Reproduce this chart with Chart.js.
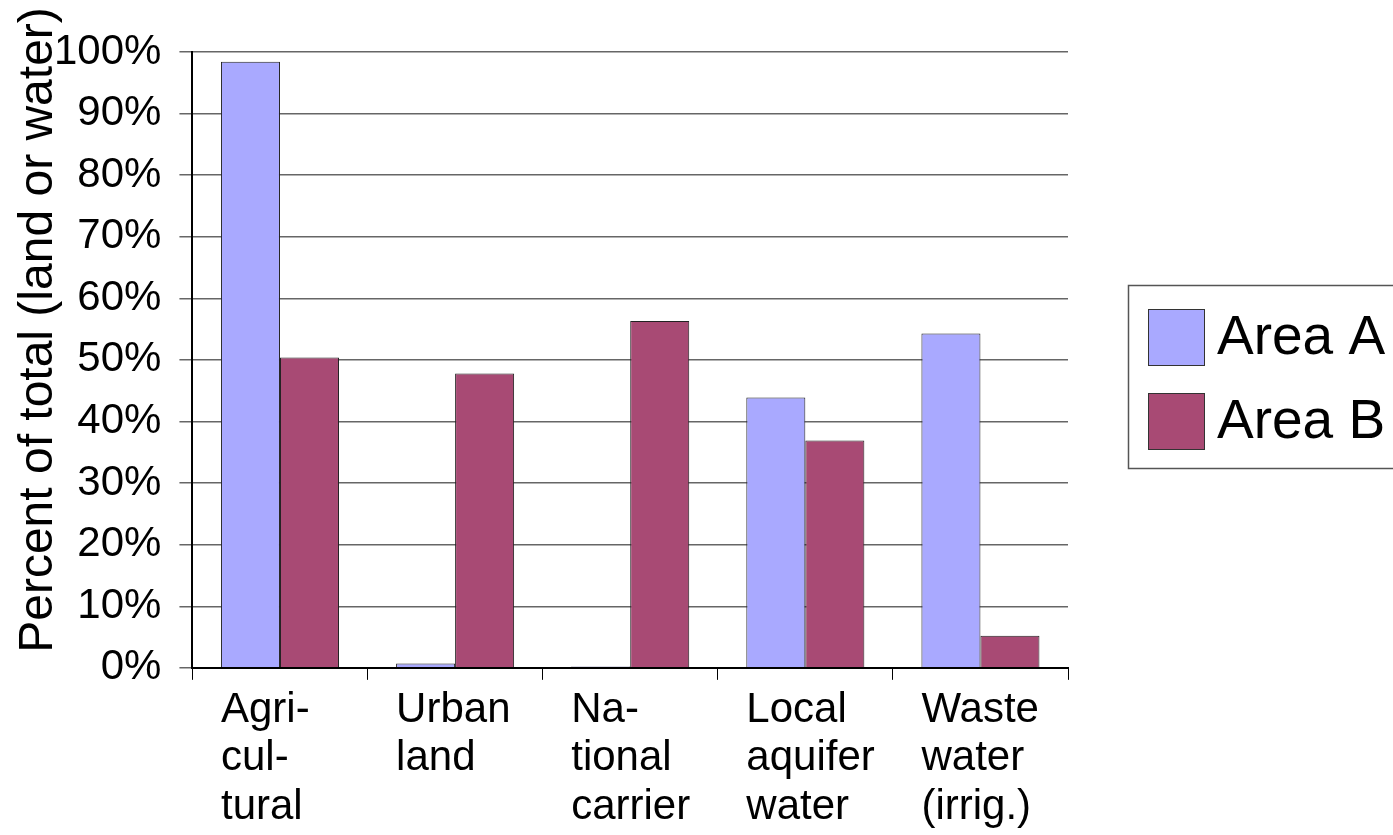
<!DOCTYPE html>
<html>
<head>
<meta charset="utf-8">
<script src="https://cdn.jsdelivr.net/npm/chart.js@4"></script>
<style>
  html, body { margin: 0; padding: 0; background: #fff; }
  #box { width: 1393px; height: 835px; position: relative; }
</style>
</head>
<body>
<div id="box"><canvas id="usoChart"></canvas></div>
<script>
// categorias (etiquetas en varias lineas)
const categorias = [
  ["Agri-", "cul-", "tural"],
  ["Urban", "land"],
  ["Na-", "tional", "carrier"],
  ["Local", "aquifer", "water"],
  ["Waste", "water", "(irrig.)"]
];
const areaA = [98.4, 0.7, 0.2, 43.9, 54.3];
const areaB = [50.4, 47.8, 56.3, 36.9, 5.2];
const ticksY = [0, 10, 20, 30, 40, 50, 60, 70, 80, 90, 100];
const tituloY = "Percent of total (land or water)";

const FUENTE = "'Liberation Sans', Arial, sans-serif";

// Titulo vertical del eje Y, un poco mas arriba que el centro del area
const tituloPlugin = {
  id: "tituloY",
  afterDraw(chart) {
    const ctx = chart.ctx;
    ctx.save();
    ctx.translate(39, 330);
    ctx.rotate(-Math.PI / 2);
    ctx.font = "48px " + FUENTE;
    ctx.fillStyle = "#000";
    ctx.textAlign = "center";
    ctx.textBaseline = "middle";
    ctx.fillText(tituloY, 0, 0);
    ctx.restore();
  }
};

// Leyenda con marco, dibujada a la derecha del area del grafico
const leyendaPlugin = {
  id: "leyendaMarco",
  afterDraw(chart) {
    const ctx = chart.ctx;
    const x0 = chart.chartArea.right + 60;
    const y0 = 285;
    ctx.save();
    ctx.strokeStyle = "#555";
    ctx.lineWidth = 1.5;
    ctx.strokeRect(x0 + 0.5, y0 + 0.5, 290, 183);
    ctx.font = "55px " + FUENTE;
    ctx.textBaseline = "middle";
    chart.data.datasets.forEach((ds, i) => {
      const yy = y0 + 24 + i * 84;
      ctx.fillStyle = ds.backgroundColor;
      ctx.fillRect(x0 + 20, yy, 56, 56);
      ctx.strokeStyle = "#333";
      ctx.lineWidth = 1;
      ctx.strokeRect(x0 + 20.5, yy + 0.5, 56, 56);
      ctx.fillStyle = "#000";
      ctx.fillText(ds.label, x0 + 89, yy + 30);
    });
    ctx.restore();
  }
};

const ctx = document.getElementById("usoChart").getContext("2d");
new Chart(ctx, {
  type: "bar",
  data: {
    labels: categorias,
    datasets: [
      { label: "Area A", data: areaA, backgroundColor: "#a9a9ff", borderColor: "#222", borderWidth: 1 },
      { label: "Area B", data: areaB, backgroundColor: "#a84a74", borderColor: "#222", borderWidth: 1 }
    ]
  },
  options: {
    responsive: true,
    maintainAspectRatio: false,
    animation: false,
    layout: { padding: { top: 52, right: 325, bottom: -3, left: 36 } },
    datasets: { bar: { categoryPercentage: 0.674, barPercentage: 1 } },
    plugins: {
      legend: { display: false },
      tooltip: { enabled: false }
    },
    scales: {
      x: {
        grid: { display: true, drawOnChartArea: false, offset: true, color: "#000", tickLength: 12 },
        border: { color: "#000", width: 2 },
        ticks: {
          color: "#000",
          align: "start",
          labelOffset: -59,
          padding: 6,
          maxRotation: 0,
          autoSkip: false,
          font: { family: FUENTE, size: 42, lineHeight: 1.16 }
        }
      },
      y: {
        min: 0,
        max: 100,
        afterBuildTicks(scale) { scale.ticks = ticksY.map(v => ({ value: v })); },
        grid: { color: "#666", lineWidth: 1.5, tickLength: 13 },
        border: { color: "#000", width: 2 },
        ticks: {
          color: "#000",
          padding: 18,
          font: { family: FUENTE, size: 42 },
          callback: v => v + "%"
        }
      }
    }
  },
  plugins: [tituloPlugin, leyendaPlugin]
});
</script>
</body>
</html>
